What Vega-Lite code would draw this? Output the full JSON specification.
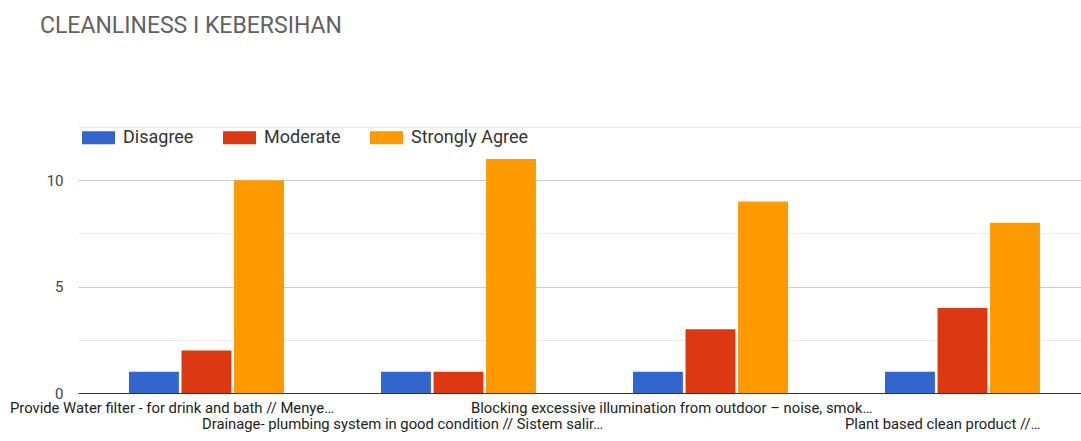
{
  "$schema": "https://vega.github.io/schema/vega-lite/v6.json",
  "autosize": "none",
  "width": 1003,
  "height": 266,
  "padding": {"left": 78, "top": 127, "right": 0, "bottom": 48},
  "background": "white",
  "title": {
    "text": "CLEANLINESS I KEBERSIHAN",
    "anchor": "start",
    "frame": "group",
    "font": "Roboto",
    "fontSize": 23,
    "fontWeight": "normal",
    "color": "#616161",
    "baseline": "top",
    "offset": 83,
    "dx": -38
  },
  "data": {
    "values": [
      {"item": "Provide Water filter - for drink and bath // Menye…", "response": "Disagree", "count": 1},
      {"item": "Provide Water filter - for drink and bath // Menye…", "response": "Moderate", "count": 2},
      {"item": "Provide Water filter - for drink and bath // Menye…", "response": "Strongly Agree", "count": 10},
      {"item": "Drainage- plumbing system in good condition // Sistem salir…", "response": "Disagree", "count": 1},
      {"item": "Drainage- plumbing system in good condition // Sistem salir…", "response": "Moderate", "count": 1},
      {"item": "Drainage- plumbing system in good condition // Sistem salir…", "response": "Strongly Agree", "count": 11},
      {"item": "Blocking excessive illumination from outdoor – noise, smok…", "response": "Disagree", "count": 1},
      {"item": "Blocking excessive illumination from outdoor – noise, smok…", "response": "Moderate", "count": 3},
      {"item": "Blocking excessive illumination from outdoor – noise, smok…", "response": "Strongly Agree", "count": 9},
      {"item": "Plant based clean product //…", "response": "Disagree", "count": 1},
      {"item": "Plant based clean product //…", "response": "Moderate", "count": 4},
      {"item": "Plant based clean product //…", "response": "Strongly Agree", "count": 8}
    ]
  },
  "mark": {"type": "bar"},
  "encoding": {
    "x": {
      "field": "item",
      "type": "nominal",
      "sort": null,
      "scale": {"paddingInner": 0.385, "paddingOuter": 0.1825, "align": 0.554},
      "axis": {
        "title": null,
        "ticks": false,
        "domainColor": "#333333",
        "domainWidth": 1,
        "labelAngle": 0,
        "labelAlign": "left",
        "labelBaseline": "top",
        "labelFont": "Roboto",
        "labelFontSize": 14.8,
        "labelColor": "#222222",
        "labelLimit": 0,
        "labelOverlap": false,
        "labelBound": false,
        "labelFlush": false,
        "labelPadding": {"condition": {"test": "indexof(datum.value,'Drainage')==0 || indexof(datum.value,'Plant')==0", "value": 23}, "value": 7},
        "labelOffset": {"condition": [
          {"test": "indexof(datum.value,'Provide')==0", "value": -196.5},
          {"test": "indexof(datum.value,'Drainage')==0", "value": -256.5},
          {"test": "indexof(datum.value,'Blocking')==0", "value": -239.5}
        ], "value": -117.5}
      }
    },
    "xOffset": {
      "field": "response",
      "type": "nominal",
      "sort": ["Disagree", "Moderate", "Strongly Agree"],
      "scale": {"paddingInner": 0.05, "paddingOuter": 0}
    },
    "y": {
      "field": "count",
      "type": "quantitative",
      "scale": {"domain": [0, 12.5], "nice": false},
      "axis": {
        "title": null,
        "values": [0, 2.5, 5, 7.5, 10, 12.5],
        "labelExpr": "datum.value % 5 == 0 ? datum.label : ''",
        "ticks": false,
        "domain": false,
        "labelPadding": 15,
        "labelFont": "Roboto",
        "labelFontSize": 15,
        "labelColor": "#444444",
        "gridColor": {"condition": {"test": "datum.value % 5 == 0", "value": "#cccccc"}, "value": "#ebebeb"},
        "gridWidth": 1
      }
    },
    "color": {
      "field": "response",
      "type": "nominal",
      "sort": ["Disagree", "Moderate", "Strongly Agree"],
      "scale": {"domain": ["Disagree", "Moderate", "Strongly Agree"], "range": ["#3366cc", "#dc3912", "#ff9900"]},
      "legend": {
        "title": null,
        "orient": "none",
        "legendX": 4,
        "legendY": -6,
        "direction": "horizontal",
        "symbolType": "M-1,-0.394H1V0.394H-1Z",
        "symbolSize": 1089,
        "symbolStrokeWidth": 0,
        "symbolOpacity": 1,
        "labelOffset": 8,
        "columnPadding": 29,
        "labelFont": "Roboto",
        "labelFontSize": 18,
        "labelColor": "#333333"
      }
    }
  },
  "config": {
    "view": {"stroke": null}
  }
}
